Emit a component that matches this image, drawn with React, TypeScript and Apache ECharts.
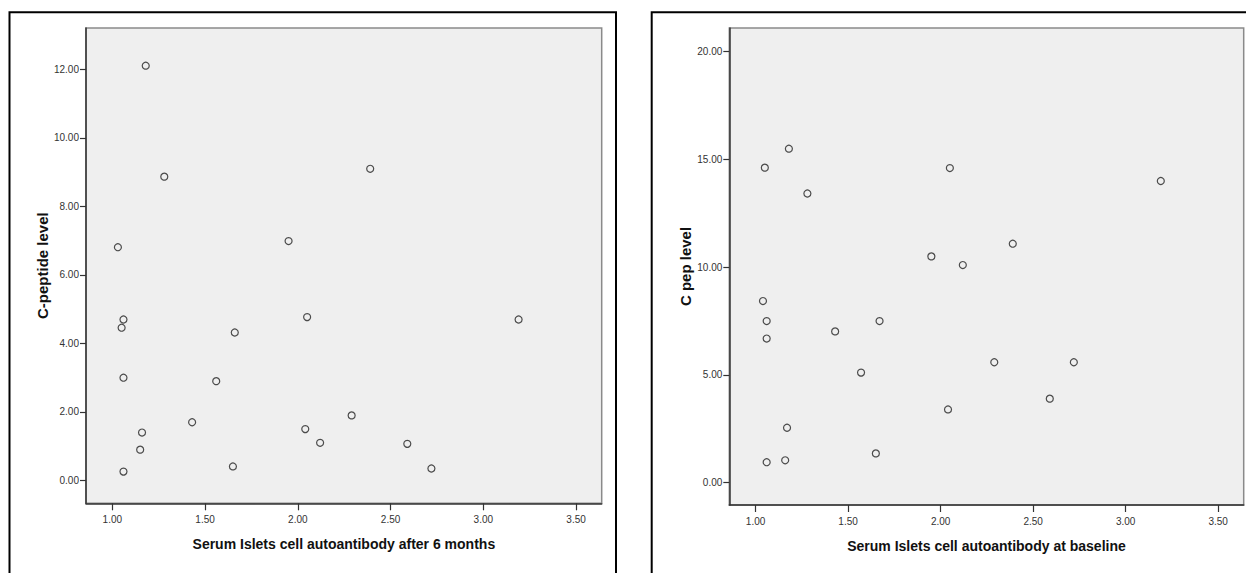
import React, { useEffect, useRef } from "react";
import * as echarts from "echarts";

// Left panel: autoantibody after 6 months vs C-peptide level
const antibody6m: number[] = [1.18, 1.28, 2.39, 1.03, 1.95, 1.06, 1.05, 1.66, 2.05, 3.19, 1.06, 1.56, 2.29, 1.43, 2.04, 1.16, 2.12, 2.59, 1.15, 1.65, 2.72, 1.06];
const cPeptide6m: number[] = [12.11, 8.87, 9.10, 6.81, 6.99, 4.70, 4.46, 4.32, 4.77, 4.70, 3.00, 2.90, 1.90, 1.70, 1.50, 1.40, 1.10, 1.07, 0.90, 0.41, 0.35, 0.26];

// Right panel: autoantibody at baseline vs C pep level
const antibodyBase: number[] = [1.18, 1.05, 2.05, 1.28, 3.19, 2.39, 1.95, 2.12, 1.04, 1.06, 1.67, 1.43, 1.06, 2.29, 2.72, 1.57, 2.59, 2.04, 1.17, 1.65, 1.16, 1.06];
const cPepBase: number[] = [15.50, 14.62, 14.60, 13.42, 14.00, 11.09, 10.50, 10.10, 8.43, 7.50, 7.50, 7.02, 6.69, 5.59, 5.59, 5.11, 3.90, 3.40, 2.55, 1.36, 1.04, 0.95];

const xTicks: number[] = [1.0, 1.5, 2.0, 2.5, 3.0, 3.5];
const yTicksLeft: number[] = [0, 2, 4, 6, 8, 10, 12];
const yTicksRight: number[] = [0, 5, 10, 15, 20];

const xTitleLeft = "Serum Islets cell autoantibody after 6 months";
const xTitleRight = "Serum Islets cell autoantibody at baseline";
const yTitleLeft = "C-peptide level";
const yTitleRight = "C pep level";

export default function App() {
  const ref = useRef<HTMLDivElement>(null);

  useEffect(() => {
    if (!ref.current) return;
    const chart = echarts.init(ref.current, undefined, { renderer: "svg" });

    const tickFont = { fontFamily: "Liberation Sans, Arial, sans-serif", fontSize: 10, color: "#333" };
    const nameFont = { fontFamily: "Liberation Sans, Arial, sans-serif", fontWeight: "bold" as const, color: "#111" };

    const mkX = (title: string, gi: number) => ({
      type: "value" as const,
      gridIndex: gi,
      min: 0.858,
      max: 3.638,
      name: title,
      nameLocation: "middle" as const,
      nameGap: 34,
      nameTextStyle: { ...nameFont, fontSize: 14 },
      axisLine: { show: true, onZero: false, lineStyle: { color: "#333", width: 1.5 } },
      axisTick: { show: true, length: 7, customValues: xTicks, lineStyle: { color: "#333", width: 1.2 } },
      axisLabel: { ...tickFont, margin: 11, customValues: xTicks, formatter: (v: number) => v.toFixed(2) },
      splitLine: { show: false },
    });

    const mkY = (title: string, gi: number, min: number, max: number, ticks: number[]) => ({
      type: "value" as const,
      gridIndex: gi,
      min,
      max,
      name: title,
      nameLocation: "middle" as const,
      nameGap: 36,
      nameTextStyle: { ...nameFont, fontSize: 15 },
      axisLine: { show: true, onZero: false, lineStyle: { color: "#333", width: 1.5 } },
      axisTick: { show: true, length: 6, customValues: ticks, lineStyle: { color: "#333", width: 1.2 } },
      axisLabel: { ...tickFont, margin: 7, customValues: ticks, formatter: (v: number) => v.toFixed(2) },
      splitLine: { show: false },
    });

    const symbolStyle = { color: "rgba(0,0,0,0)", borderColor: "#222", borderWidth: 1.2 };

    chart.setOption({
      animation: false,
      backgroundColor: "#ffffff",
      grid: [
        { left: 86, top: 28, width: 515.7, height: 475.3, show: true, backgroundColor: "#efefef", borderColor: "#8a8a8a", borderWidth: 1.5 },
        { left: 729.3, top: 28, width: 514.4, height: 477, show: true, backgroundColor: "#efefef", borderColor: "#8a8a8a", borderWidth: 1.5 },
      ],
      xAxis: [mkX(xTitleLeft, 0), mkX(xTitleRight, 1)],
      yAxis: [mkY(yTitleLeft, 0, -0.666, 13.21, yTicksLeft), mkY(yTitleRight, 1, -1.035, 21.1, yTicksRight)],
      series: [
        {
          type: "scatter",
          xAxisIndex: 0,
          yAxisIndex: 0,
          symbol: "circle",
          symbolSize: 7,
          itemStyle: symbolStyle,
          data: antibody6m.map((x, i) => [x, cPeptide6m[i]]),
        },
        {
          type: "scatter",
          xAxisIndex: 1,
          yAxisIndex: 1,
          symbol: "circle",
          symbolSize: 7,
          itemStyle: symbolStyle,
          data: antibodyBase.map((x, i) => [x, cPepBase[i]]),
        },
      ],
      graphic: [
        {
          type: "polyline",
          silent: true,
          shape: { points: [[9.5, 590], [9.5, 12.3], [616, 12.3], [616, 590]] },
          style: { stroke: "#000", lineWidth: 2, fill: "none" },
        },
        {
          type: "polyline",
          silent: true,
          shape: { points: [[651.7, 590], [651.7, 12.3], [1260, 12.3]] },
          style: { stroke: "#000", lineWidth: 2, fill: "none" },
        },
      ],
    });

    return () => chart.dispose();
  }, []);

  return (
    <div
      ref={ref}
      style={{ position: "fixed", left: 0, top: 0, width: 1246, height: 573, background: "#fff" }}
    />
  );
}
